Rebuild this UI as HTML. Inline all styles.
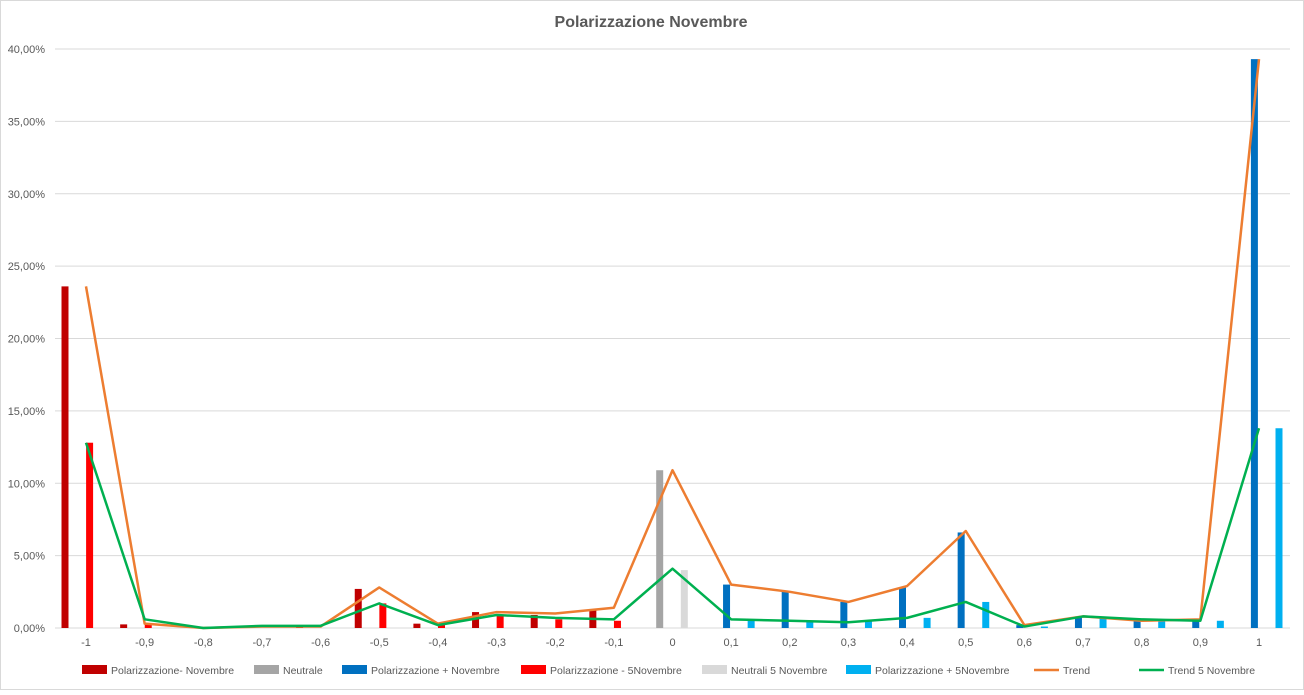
<!DOCTYPE html>
<html><head><meta charset="utf-8"><style>
body{margin:0;background:#fff;font-family:"Liberation Sans",sans-serif}
svg text{font-family:"Liberation Sans",sans-serif}
</style></head><body>
<svg id="chart" width="1304" height="690" xmlns="http://www.w3.org/2000/svg">
<rect x="0.5" y="0.5" width="1303" height="689" fill="#fff" stroke="#d9d9d9"/>
<text x="651" y="27" text-anchor="middle" font-size="16" font-weight="bold" fill="#595959">Polarizzazione Novembre</text>
<g id="grid"></g><g id="bars"></g><g id="lines"></g><g id="xlabels"></g><g id="legend"></g>
</svg>
<script>
const categories=["-1","-0,9","-0,8","-0,7","-0,6","-0,5","-0,4","-0,3","-0,2","-0,1","0","0,1","0,2","0,3","0,4","0,5","0,6","0,7","0,8","0,9","1"];
const yTicks=[0,5,10,15,20,25,30,35,40];
const yTickLabels=["0,00%","5,00%","10,00%","15,00%","20,00%","25,00%","30,00%","35,00%","40,00%"];
const polMenoNov=[23.6,0.25,0,0,0.1,2.7,0.3,1.1,0.9,1.3,0,0,0,0,0,0,0,0,0,0,0];
const neutrale=[0,0,0,0,0,0,0,0,0,0,10.9,0,0,0,0,0,0,0,0,0,0];
const polPiuNov=[0,0,0,0,0,0,0,0,0,0,0,3.0,2.5,1.8,2.8,6.6,0.2,0.8,0.5,0.6,39.3];
const polMeno5Nov=[12.8,0.3,0,0,0,1.7,0.2,0.9,0.6,0.5,0,0,0,0,0,0,0,0,0,0,0];
const neutrali5Nov=[0,0,0,0,0,0,0,0,0,0,4.0,0,0,0,0,0,0,0,0,0,0];
const polPiu5Nov=[0,0,0,0,0,0,0,0,0,0,0,0.6,0.5,0.5,0.7,1.8,0.1,0.7,0.5,0.5,13.8];
const trend=[23.6,0.3,0,0.1,0.1,2.8,0.3,1.1,1.0,1.4,10.9,3.0,2.5,1.8,2.9,6.7,0.2,0.8,0.5,0.6,39.3];
const trend5Nov=[12.8,0.6,0,0.15,0.15,1.7,0.2,0.9,0.7,0.6,4.1,0.6,0.5,0.4,0.7,1.8,0.1,0.8,0.6,0.5,13.8];
const seriesNames=["Polarizzazione- Novembre","Neutrale","Polarizzazione + Novembre","Polarizzazione - 5Novembre","Neutrali 5 Novembre","Polarizzazione + 5Novembre","Trend","Trend 5 Novembre"];

const NS="http://www.w3.org/2000/svg";
const x0=86,step=(1259-86)/20,y0=628,pxPer=(628-49)/40;
const xS=i=>x0+i*step, yS=v=>y0-v*pxPer;
function mk(p,tag,at){const e=document.createElementNS(NS,tag);for(const k in at)e.setAttribute(k,at[k]);document.getElementById(p).appendChild(e);return e;}
yTicks.forEach((t,i)=>{
 const l=mk('grid','line',{x1:55,x2:1290,y1:yS(t),y2:yS(t),stroke:'#d9d9d9','stroke-width':1});
 
 
 const tx=mk('grid','text',{x:45,y:yS(t)+4,'text-anchor':'end','font-size':11,fill:'#595959'});
 tx.textContent=yTickLabels[i];
 
 
});
categories.forEach((c,i)=>{
 const tx=mk('xlabels','text',{x:xS(i),y:646,'text-anchor':'middle','font-size':11,fill:'#595959'});
 tx.textContent=c;
 
 
});
const barSeries=[polMenoNov,neutrale,polPiuNov,polMeno5Nov,neutrali5Nov,polPiu5Nov];
const colors=["#C00000","#A5A5A5","#0070C0","#FF0000","#D9D9D9","#00B0F0","#ED7D31","#00B050"];
barSeries.forEach((s,si)=>{
 s.forEach((v,i)=>{
  if(v<=0)return;
  const cx=xS(i)-21+si*8.2;
  const r=mk('bars','rect',{x:cx-3.5,y:yS(v),width:7,height:y0-yS(v),fill:colors[si]});
  
  
 });
});
[trend,trend5Nov].forEach((s,k)=>{
 const p=mk('lines','polyline',{points:s.map((v,i)=>xS(i)+','+yS(v)).join(' '),fill:'none',stroke:colors[6+k],'stroke-width':2.5,'stroke-linejoin':'round'});
 
 
});
const legX=[82,254,342,521,702,846,1034,1139];
seriesNames.forEach((n,i)=>{
 const g=mk('legend','g',{});
 
 
 let tx0;
 if(i<6){const r=document.createElementNS(NS,'rect');r.setAttribute('x',legX[i]);r.setAttribute('y',665);r.setAttribute('width',25);r.setAttribute('height',9);r.setAttribute('fill',colors[i]);g.appendChild(r);tx0=legX[i]+29;}
 else{const l=document.createElementNS(NS,'line');l.setAttribute('x1',legX[i]);l.setAttribute('x2',legX[i]+25);l.setAttribute('y1',670);l.setAttribute('y2',670);l.setAttribute('stroke',colors[i]);l.setAttribute('stroke-width',2.5);g.appendChild(l);tx0=legX[i]+29;}
 const t=document.createElementNS(NS,'text');t.setAttribute('x',tx0);t.setAttribute('y',674);t.setAttribute('font-size',10.5);t.setAttribute('fill','#595959');t.textContent=n;g.appendChild(t);
});
</script>
</body></html>
